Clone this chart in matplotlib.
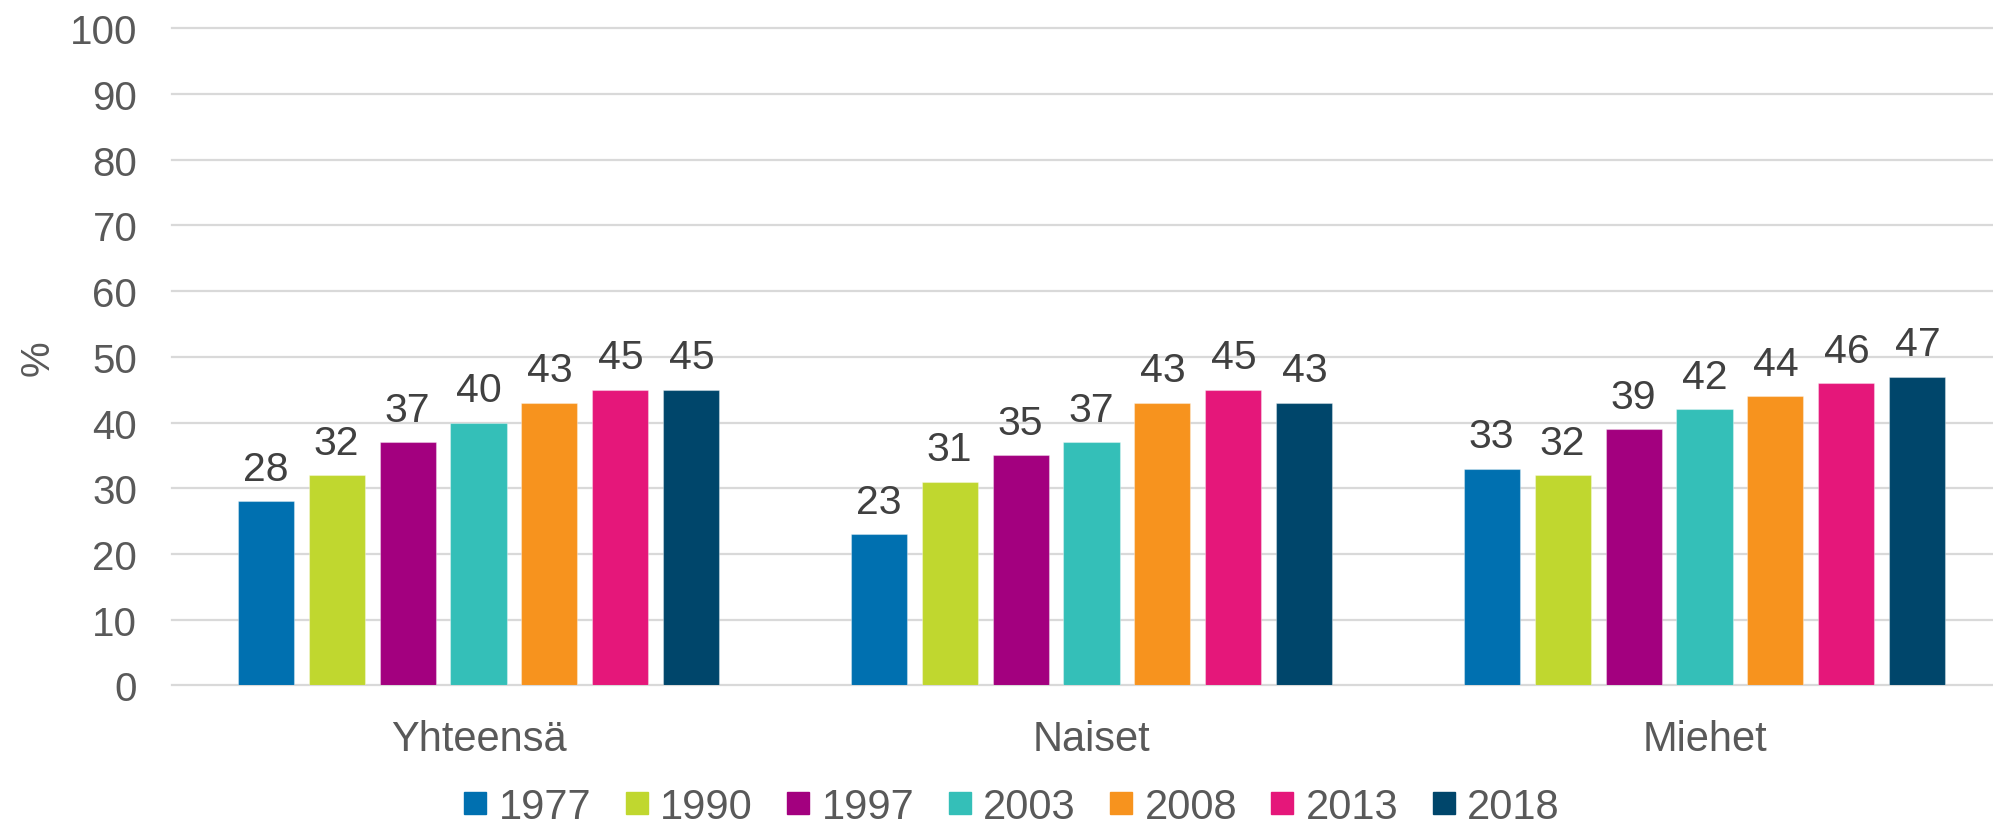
import matplotlib
matplotlib.use("Agg")
import matplotlib.pyplot as plt
from matplotlib.lines import Line2D
import numpy as np

plt.rcParams['font.family'] = ['Liberation Sans', 'DejaVu Sans']

categories = ["Yhteensä", "Naiset", "Miehet"]
years = ["1977", "1990", "1997", "2003", "2008", "2013", "2018"]
v1977 = [28, 23, 33]
v1990 = [32, 31, 32]
v1997 = [37, 35, 39]
v2003 = [40, 37, 42]
v2008 = [43, 43, 44]
v2013 = [45, 45, 46]
v2018 = [45, 43, 47]
series = [v1977, v1990, v1997, v2003, v2008, v2013, v2018]
colors = ["#0070B0", "#C0D72F", "#A3007F", "#34BFB8", "#F7931E", "#E5177A", "#00466B"]
yticks = [0, 10, 20, 30, 40, 50, 60, 70, 80, 90, 100]

W, H = 1993, 828
fig = plt.figure(figsize=(W / 100, H / 100), dpi=100)
ax_left, ax_right = 172, 1993
ax_top, ax_bottom = 29.2, 686.4
ax = fig.add_axes([ax_left / W, 1 - ax_bottom / H, (ax_right - ax_left) / W, (ax_bottom - ax_top) / H])

x = np.arange(len(categories))
pitch = 0.1158
bw = 0.0914
for j, (vals, c) in enumerate(zip(series, colors)):
    xs = x + (j - 3) * pitch
    ax.bar(xs, vals, width=bw, color=c, zorder=3, label=years[j],
           edgecolor=(1, 1, 1, 0.35), linewidth=0.8)
    for xi, v in zip(xs, vals):
        ax.annotate(str(v), (xi, v), xytext=(0, 15.5), textcoords='offset points',
                    ha='center', va='baseline', fontsize=29.5, color='#404040')

ax.set_xlim(-0.5, -0.5 + (ax_right - ax_left) / 613)
ax.set_ylim(0, 100)
ax.set_yticks(yticks)
ax.set_yticklabels([str(t) for t in yticks])
ax.set_xticks(x)
ax.set_xticklabels(categories)
ax.tick_params(axis='y', length=0, pad=25, labelsize=29, labelcolor='#595959')
ax.tick_params(axis='x', length=0, pad=24, labelsize=30, labelcolor='#595959')
for s in ax.spines.values():
    s.set_visible(False)
ax.yaxis.grid(True, color='#D9D9D9', linewidth=1.6, zorder=0)
for gl in ax.get_ygridlines():
    gl.set_clip_on(False)
ax.set_axisbelow(True)

fig.text(38 / W, 1 - 358 / H, '%', rotation=90, ha='center', va='center',
         fontsize=29, color='#595959')

handles = [Line2D([0], [0], marker='s', linestyle='none', markersize=15.8,
                  markerfacecolor=c, markeredgecolor=c) for c in colors]
leg = fig.legend(handles, years, loc='center', bbox_to_anchor=(1012 / W, 1 - 808 / H),
                 ncol=7, frameon=False, fontsize=30, handlelength=0.53,
                 handletextpad=0.3, columnspacing=0.82, borderpad=0, borderaxespad=0)
for t in leg.get_texts():
    t.set_color('#595959')

fig.savefig('out.png', dpi=100)
